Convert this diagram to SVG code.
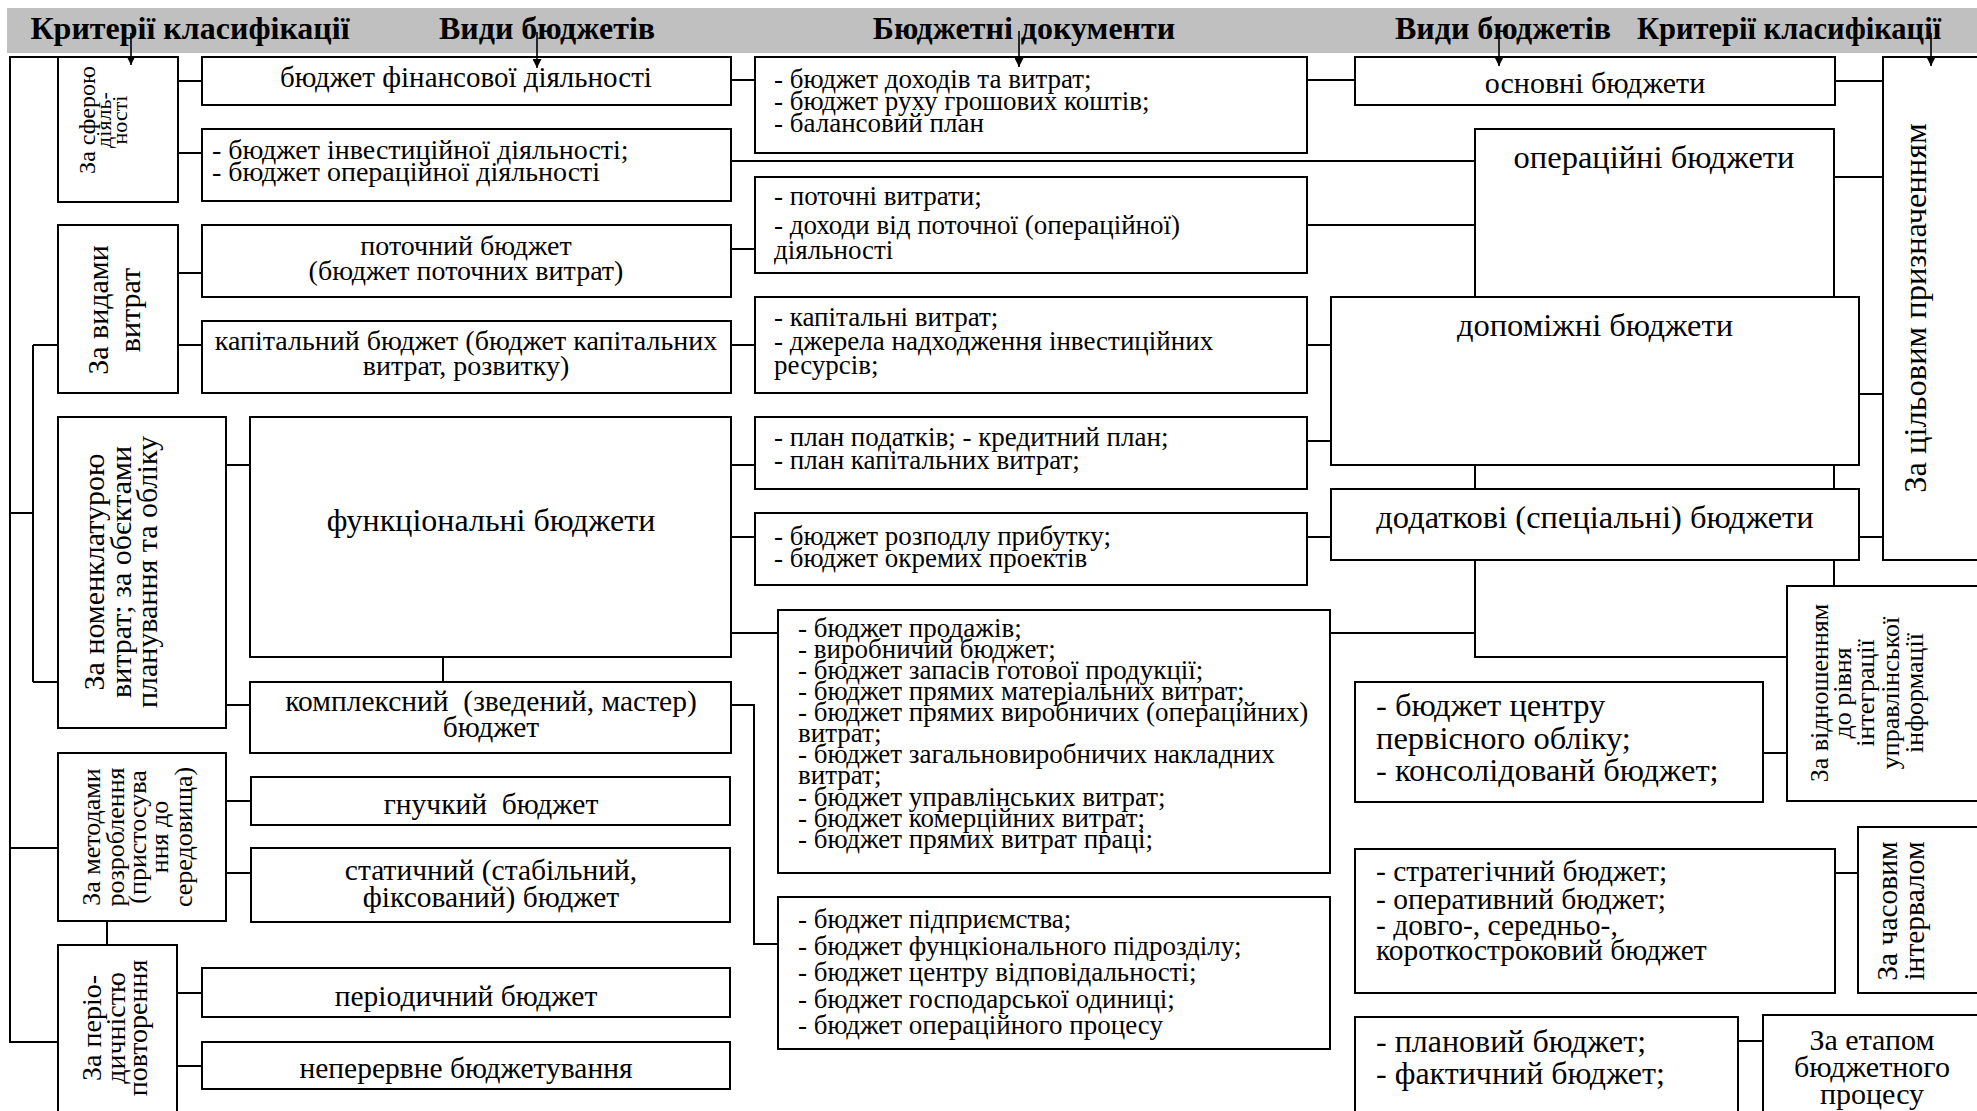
<svg xmlns="http://www.w3.org/2000/svg" width="1977" height="1111" viewBox="0 0 1977 1111">
<style>
.box{fill:#fff;stroke:#000;stroke-width:2}
.ln{fill:none;stroke:#000;stroke-width:2}
.ar{fill:none;stroke:#000;stroke-width:1.6}
text{font-family:"Liberation Serif","Times New Roman",serif;fill:#000}
.hd{font-weight:bold;font-size:32px;text-anchor:middle}
.c{text-anchor:middle}
.s26{font-size:26px}
.s27{font-size:27px}
.s28{font-size:28px}
.s29{font-size:29.5px}
.s30{font-size:30px}
.s32{font-size:32.5px}
</style>
<defs>
<marker id="arr" viewBox="0 0 10 10" refX="10" refY="5" markerWidth="9" markerHeight="9" markerUnits="userSpaceOnUse" orient="auto">
<path d="M0,0 L10,5 L0,10 z" fill="#000"/>
</marker>
</defs>
<rect x="0" y="0" width="1977" height="1111" fill="#fff"/>
<g id="header">
<rect x="7" y="8" width="1970" height="45" fill="#c0c0c0"/>
<text class="hd" x="190" y="39">Критерії класифікації</text>
<text class="hd" x="547" y="39">Види бюджетів</text>
<text class="hd" x="1024" y="39">Бюджетні документи</text>
<text class="hd" x="1503" y="39">Види бюджетів</text>
<text class="hd" style="font-size:30.5px" x="1789" y="39">Критерії класифікації</text>
</g>

<g id="nodes">
<g id="crit-sphere"><rect class="box" x="58" y="57" width="120" height="145"/>
<g transform="translate(0,120) rotate(-90)"><text class="c" style="font-size:24px" x="0" y="95">За сферою</text><text class="c" style="font-size:22px" x="0" y="111">діяль-</text><text class="c" style="font-size:22px" x="0" y="127">ності</text></g></g>
<g id="crit-costs"><rect class="box" x="58" y="225" width="120" height="168"/>
<g transform="translate(0,310) rotate(-90)"><text class="c s30" x="0" y="108">За видами</text><text class="c s30" x="0" y="140">витрат</text></g></g>
<g id="crit-nomen"><rect class="box" x="58" y="417" width="168" height="311"/>
<g transform="translate(0,572) rotate(-90)"><text class="c s30" x="0" y="104">За номенклатурою</text><text class="c s30" x="0" y="131">витрат; за обєктами</text><text class="c s30" x="0" y="157">планування та обліку</text></g></g>
<g id="crit-methods"><rect class="box" x="58" y="753" width="168" height="168"/>
<g transform="translate(0,837) rotate(-90)"><text class="c s26" x="0" y="100">За методами</text><text class="c s26" x="0" y="124">розроблення</text><text class="c s26" x="0" y="146">(пристосува</text><text class="c s26" x="0" y="168">ння до</text><text class="c s26" x="0" y="192">середовища)</text></g></g>
<g id="crit-period"><rect class="box" x="58" y="945" width="119" height="180"/>
<g transform="translate(0,1028) rotate(-90)"><text class="c s28" x="0" y="101">За періо-</text><text class="c s28" x="0" y="125">дичністю</text><text class="c s28" x="0" y="147">повторення</text></g></g>

<g id="b-fin"><rect class="box" x="202" y="57" width="529" height="48"/><text class="c" style="font-size:29px" x="466" y="87">бюджет фінансової діяльності</text></g>
<g id="b-inv"><rect class="box" x="202" y="129" width="529" height="72"/><text class="s28" x="212" y="159">- бюджет інвестиційної діяльності;</text><text class="s28" x="212" y="181">- бюджет операційної діяльності</text></g>
<g id="b-cur"><rect class="box" x="202" y="225" width="529" height="72"/><text class="c s28" x="466" y="255">поточний бюджет</text><text class="c s28" x="466" y="280">(бюджет поточних витрат)</text></g>
<g id="b-cap"><rect class="box" x="202" y="321" width="529" height="72"/><text class="c s28" x="466" y="350">капітальний бюджет (бюджет капітальних</text><text class="c s28" x="466" y="375">витрат, розвитку)</text></g>
<g id="b-func"><rect class="box" x="250" y="417" width="481" height="240"/><text class="c" style="font-size:32px" x="491" y="531">функціональні бюджети</text></g>
<g id="b-master"><rect class="box" x="250" y="682" width="481" height="71"/><text class="c s29" x="491" y="711" xml:space="preserve">комплексний  (зведений, мастер)</text><text class="c s29" x="491" y="737">бюджет</text></g>
<g id="b-flex"><rect class="box" x="251" y="777" width="479" height="48"/><text class="c s29" x="491" y="814" xml:space="preserve">гнучкий  бюджет</text></g>
<g id="b-static"><rect class="box" x="251" y="848" width="479" height="74"/><text class="c s29" x="491" y="880">статичний (стабільний,</text><text class="c s29" x="491" y="907">фіксований) бюджет</text></g>
<g id="b-periodic"><rect class="box" x="202" y="968" width="528" height="49"/><text class="c s29" x="466" y="1006">періодичний бюджет</text></g>
<g id="b-contin"><rect class="box" x="202" y="1042" width="528" height="47"/><text class="c s29" x="466" y="1078">неперервне бюджетування</text></g>

<g id="d-main"><rect class="box" x="755" y="57" width="552" height="96"/><text class="s27" x="774" y="88">- бюджет доходів та витрат;</text><text class="s27" x="774" y="110">- бюджет руху грошових коштів;</text><text class="s27" x="774" y="132">- балансовий план</text></g>
<g id="d-cur"><rect class="box" x="755" y="177" width="552" height="96"/><text class="s27" x="774" y="205">- поточні витрати;</text><text class="s27" x="774" y="234">- доходи від поточної (операційної)</text><text class="s27" x="774" y="259">діяльності</text></g>
<g id="d-cap"><rect class="box" x="755" y="297" width="552" height="96"/><text class="s27" x="774" y="326">- капітальні витрат;</text><text class="s27" x="774" y="350">- джерела надходження інвестиційних</text><text class="s27" x="774" y="374">ресурсів;</text></g>
<g id="d-tax"><rect class="box" x="755" y="417" width="552" height="72"/><text class="s27" x="774" y="446">- план податків; - кредитний план;</text><text class="s27" x="774" y="469">- план капітальних витрат;</text></g>
<g id="d-profit"><rect class="box" x="755" y="513" width="552" height="72"/><text class="s27" x="774" y="545">- бюджет розподлу прибутку;</text><text class="s27" x="774" y="567">- бюджет окремих проектів</text></g>
<g id="d-func"><rect class="box" x="778" y="610" width="552" height="263"/>
<text class="s27" x="798" y="637">- бюджет продажів;</text>
<text class="s27" x="798" y="658">- виробничий бюджет;</text>
<text class="s27" x="798" y="679">- бюджет запасів готової продукції;</text>
<text class="s27" x="798" y="700">- бюджет прямих матеріальних витрат;</text>
<text class="s27" x="798" y="721">- бюджет прямих виробничих (операційних)</text>
<text class="s27" x="798" y="742">витрат;</text>
<text class="s27" x="798" y="763">- бюджет загальновиробничих накладних</text>
<text class="s27" x="798" y="784">витрат;</text>
<text class="s27" x="798" y="806">- бюджет управлінських витрат;</text>
<text class="s27" x="798" y="827">- бюджет комерційних витрат;</text>
<text class="s27" x="798" y="848">- бюджет прямих витрат праці;</text></g>
<g id="d-units"><rect class="box" x="778" y="897" width="552" height="152"/>
<text class="s27" x="798" y="928">- бюджет підприємства;</text>
<text class="s27" x="798" y="955">- бюджет фунцкіонального підрозділу;</text>
<text class="s27" x="798" y="981">- бюджет центру відповідальності;</text>
<text class="s27" x="798" y="1008">- бюджет господарської одиниці;</text>
<text class="s27" x="798" y="1034">- бюджет операційного процесу</text></g>

<g id="v-main"><rect class="box" x="1355" y="57" width="480" height="48"/><text class="c s30" x="1595" y="93">основні бюджети</text></g>
<g id="v-oper"><rect class="box" x="1475" y="129" width="359" height="168"/><text class="c s32" x="1654" y="168">операційні бюджети</text></g>
<g id="v-aux"><rect class="box" x="1331" y="297" width="528" height="168"/><text class="c s32" x="1595" y="336">допоміжні бюджети</text></g>
<g id="v-add"><rect class="box" x="1331" y="489" width="528" height="71"/><text class="c s32" x="1595" y="528">додаткові (спеціальні) бюджети</text></g>
<g id="v-integr"><rect class="box" x="1355" y="682" width="408" height="120"/><text class="s32" x="1376" y="716">- бюджет центру</text><text class="s32" x="1376" y="749">первісного обліку;</text><text class="s32" x="1376" y="781">- консолідованй бюджет;</text></g>
<g id="v-time"><rect class="box" x="1355" y="849" width="480" height="144"/><text class="s29" x="1376" y="881">- стратегічний бюджет;</text><text class="s29" x="1376" y="909">- оперативний бюджет;</text><text class="s29" x="1376" y="935">- довго-, середньо-,</text><text class="s29" x="1376" y="960">короткостроковий бюджет</text></g>
<g id="v-stage"><rect class="box" x="1355" y="1017" width="383" height="110"/><text style="font-size:32px" x="1376" y="1052">- плановий бюджет;</text><text style="font-size:32px" x="1376" y="1084">- фактичний бюджет;</text></g>

<g id="crit-purpose"><rect class="box" x="1883" y="57" width="110" height="503"/>
<g transform="translate(0,308) rotate(-90)"><text class="c s32" x="0" y="1926">За цільовим призначенням</text></g></g>
<g id="crit-level"><rect class="box" x="1787" y="586" width="200" height="215"/>
<g transform="translate(0,693) rotate(-90)"><text class="c s26" x="0" y="1828">За відношенням</text><text class="c s26" x="0" y="1851">до рівня</text><text class="c s26" x="0" y="1874">інтеграції</text><text class="c s26" x="0" y="1899">управлінської</text><text class="c s26" x="0" y="1923">інформації</text></g></g>
<g id="crit-time"><rect class="box" x="1858" y="827" width="130" height="166"/>
<g transform="translate(0,911) rotate(-90)"><text class="c s29" x="0" y="1897">За часовим</text><text class="c s29" x="0" y="1924">інтервалом</text></g></g>
<g id="crit-stage"><rect class="box" x="1763" y="1015" width="230" height="110"/><text class="c s30" x="1872" y="1050">За етапом</text><text class="c s30" x="1872" y="1077">бюджетного</text><text class="c s30" x="1872" y="1104">процесу</text></g>
</g>

<g id="connectors">
<path class="ln" d="M58,57 H10 V1042 H58"/>
<path class="ln" d="M10,513 H33 M33,345 V682 M33,345 H58 M33,682 H58 M10,848 H58 M107,921 V945"/>
<path class="ln" d="M178,81 H202 M178,153 H202 M178,273 H202 M178,345 H202 M226,465 H250 M226,705 H250 M443,657 V682 M226,801 H251 M226,873 H251 M177,993 H202 M177,1066 H202"/>
<path class="ln" d="M731,80 H755 M1307,80 H1355 M731,161 H1475 M731,249 H755 M1307,225 H1475 M731,345 H755 M1307,345 H1331 M731,465 H755 M1307,441 H1331 M731,537 H755 M1307,537 H1331 M731,633 H778 M1330,633 H1475 M731,705 H754 V944 H778"/>
<path class="ln" d="M1475,465 V489 M1834,465 V489 M1475,560 V657 H1787 M1834,560 V586"/>
<path class="ln" d="M1835,81 H1883 M1834,177 H1883 M1859,394 H1883 M1859,537 H1883 M1763,753 H1787 M1835,873 H1858 M1738,1041 H1763"/>
<g class="arrows">
<line class="ar" x1="131" y1="33" x2="131" y2="65" marker-end="url(#arr)"/>
<line class="ar" x1="537" y1="32" x2="537" y2="68" marker-end="url(#arr)"/>
<line class="ar" x1="1019" y1="31" x2="1019" y2="67" marker-end="url(#arr)"/>
<line class="ar" x1="1499" y1="33" x2="1499" y2="66" marker-end="url(#arr)"/>
<line class="ar" x1="1931" y1="33" x2="1931" y2="66" marker-end="url(#arr)"/>
</g>
</g>
</svg>
